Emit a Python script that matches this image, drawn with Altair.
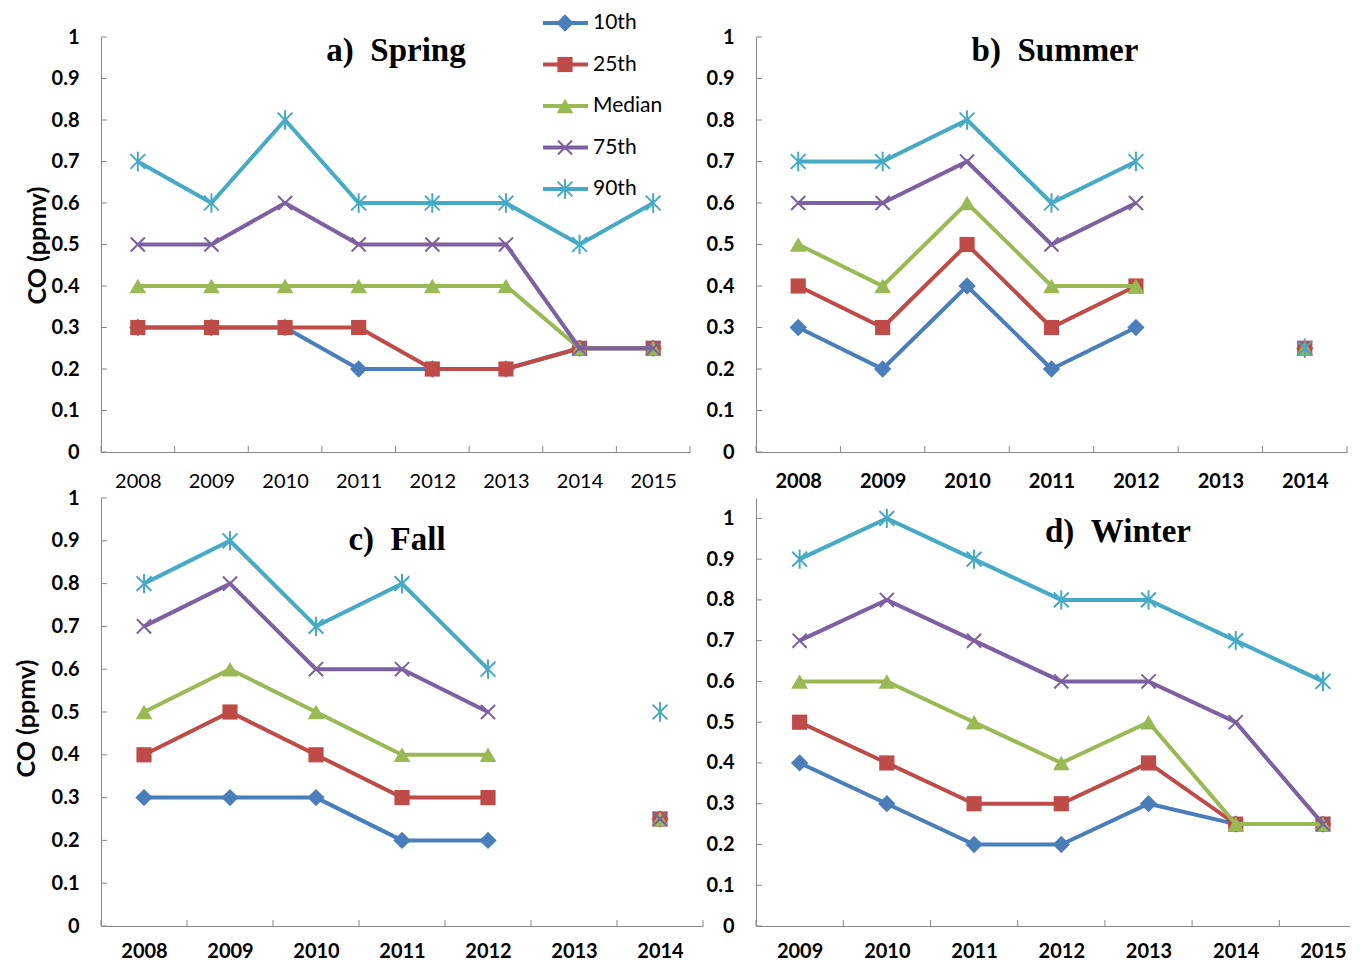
import altair as alt
import pandas as pd

SERIES = ["10th", "25th", "Median", "75th", "90th"]
COLORS = ["#4A7EBB", "#BE4B48", "#98B954", "#7D60A0", "#46AAC5"]
SHAPES = ["diamond", "square", "triangle-up",
          "M-1,-1L1,1M-1,1L1,-1",
          "M-1,-1L1,1M-1,1L1,-1M0,-1.3L0,1.3"]
FILLED = [True, True, True, False, False]
SIZES = [300, 230, 280, 200, 220]

Y_TICKS = [0, 0.1, 0.2, 0.3, 0.4, 0.5, 0.6, 0.7, 0.8, 0.9, 1.0]

SPRING_YEARS = [2008, 2009, 2010, 2011, 2012, 2013, 2014, 2015]
SPRING_10TH = [0.3, 0.3, 0.3, 0.2, 0.2, 0.2, 0.25, 0.25]
SPRING_25TH = [0.3, 0.3, 0.3, 0.3, 0.2, 0.2, 0.25, 0.25]
SPRING_MEDIAN = [0.4, 0.4, 0.4, 0.4, 0.4, 0.4, 0.25, 0.25]
SPRING_75TH = [0.5, 0.5, 0.6, 0.5, 0.5, 0.5, 0.25, 0.25]
SPRING_90TH = [0.7, 0.6, 0.8, 0.6, 0.6, 0.6, 0.5, 0.6]

SUMMER_YEARS = [2008, 2009, 2010, 2011, 2012, 2013, 2014]
SUMMER_10TH = [0.3, 0.2, 0.4, 0.2, 0.3, None, 0.25]
SUMMER_25TH = [0.4, 0.3, 0.5, 0.3, 0.4, None, 0.25]
SUMMER_MEDIAN = [0.5, 0.4, 0.6, 0.4, 0.4, None, 0.25]
SUMMER_75TH = [0.6, 0.6, 0.7, 0.5, 0.6, None, 0.25]
SUMMER_90TH = [0.7, 0.7, 0.8, 0.6, 0.7, None, 0.25]

FALL_YEARS = [2008, 2009, 2010, 2011, 2012, 2013, 2014]
FALL_10TH = [0.3, 0.3, 0.3, 0.2, 0.2, None, 0.25]
FALL_25TH = [0.4, 0.5, 0.4, 0.3, 0.3, None, 0.25]
FALL_MEDIAN = [0.5, 0.6, 0.5, 0.4, 0.4, None, 0.25]
FALL_75TH = [0.7, 0.8, 0.6, 0.6, 0.5, None, 0.25]
FALL_90TH = [0.8, 0.9, 0.7, 0.8, 0.6, None, 0.5]

WINTER_YEARS = [2009, 2010, 2011, 2012, 2013, 2014, 2015]
WINTER_10TH = [0.4, 0.3, 0.2, 0.2, 0.3, 0.25, 0.25]
WINTER_25TH = [0.5, 0.4, 0.3, 0.3, 0.4, 0.25, 0.25]
WINTER_MEDIAN = [0.6, 0.6, 0.5, 0.4, 0.5, 0.25, 0.25]
WINTER_75TH = [0.7, 0.8, 0.7, 0.6, 0.6, 0.5, 0.25]
WINTER_90TH = [0.9, 1.0, 0.9, 0.8, 0.8, 0.7, 0.6]

TITLES = ["a)\u00a0\u00a0Spring", "b)\u00a0\u00a0Summer", "c)\u00a0\u00a0Fall", "d)\u00a0\u00a0Winter"]
Y_TITLE = "CO (ppmv)"

FONT = "Lato"
AXIS_C = "#888888"


def series_df(years, values):
    rows = []
    seg = 0
    for y, v in zip(years, values):
        if v is None:
            seg += 1
            continue
        rows.append({"yr": y, "value": v, "seg": seg})
    return pd.DataFrame(rows)


def make_panel(years, series_values, width, height, ymax, title, tx, ty,
               bold_x, xpad, ytitle=None, ytx=0, yty=0, xmax=None, legend=False):
    x0 = years[0] - 0.5
    x1 = years[-1] + 0.5 if xmax is None else xmax
    xscale = alt.Scale(domain=[x0, x1], nice=False, zero=False)
    xaxis = alt.Axis(title=None, ticks=False, grid=False, values=years, format="d",
                     domain=True, domainColor=AXIS_C, domainWidth=1,
                     labelFont=FONT, labelFontSize=20,
                     labelFontWeight="bold" if bold_x else "normal",
                     labelColor="black", labelPadding=xpad, labelAngle=0,
                     labelOverlap=False, labelFlush=False)
    yscale = alt.Scale(domain=[0, ymax], nice=False, zero=True)
    ykw = dict(values=Y_TICKS, format=".1~f", ticks=False, grid=False,
               domainColor=AXIS_C, domainWidth=1,
               labelFont=FONT, labelFontSize=20, labelFontWeight="bold",
               labelColor="black", labelPadding=22)
    if ytitle:
        ykw.update(title=ytitle, titleFont=FONT, titleFontSize=25,
                   titleFontWeight="bold", titleColor="black",
                   titleX=ytx, titleY=yty, titleAngle=270,
                   titleBaseline="middle", titleAlign="center")
    else:
        ykw.update(title=None)
    yaxis = alt.Axis(**ykw)

    X = alt.X("yr:Q", scale=xscale, axis=xaxis)
    XB = alt.X("edge:Q", scale=xscale, axis=xaxis)
    Y = alt.Y("value:Q", scale=yscale, axis=yaxis)

    edges = [y - 0.5 for y in years]
    if xmax is None:
        edges.append(years[-1] + 0.5)
    edges_df = pd.DataFrame({"edge": edges})
    ticks_df = pd.DataFrame({"value": Y_TICKS})

    layers = []
    layers.append(alt.Chart(ticks_df).mark_rule(color=AXIS_C, strokeWidth=1).encode(
        y=Y, x=alt.value(0), x2=alt.value(6)))
    layers.append(alt.Chart(edges_df).mark_rule(color=AXIS_C, strokeWidth=1).encode(
        x=XB, y=alt.value(height), y2=alt.value(height - 6)))

    for i, vals in enumerate(series_values):
        d = series_df(years, vals)
        layers.append(alt.Chart(d).mark_line(color=COLORS[i], strokeWidth=4).encode(
            x=X, y=Y, detail="seg:N"))
        layers.append(alt.Chart(d).mark_point(
            shape=SHAPES[i], filled=FILLED[i], size=SIZES[i], color=COLORS[i],
            opacity=1, strokeWidth=2 if not FILLED[i] else 0.5).encode(x=X, y=Y))

    layers.append(alt.Chart(pd.DataFrame({"t": [title]})).mark_text(
        font="Liberation Serif", fontSize=33, fontWeight="bold", color="black",
        align="center", baseline="middle").encode(
        x=alt.value(tx), y=alt.value(ty), text="t:N"))

    main = alt.layer(*layers)

    if legend:
        leg_df = pd.DataFrame({"s": SERIES})
        ly = alt.Y("s:N", scale=alt.Scale(type="point", domain=SERIES,
                                           range=[-14, 152], padding=0), axis=None)
        llayers = []
        for i, s in enumerate(SERIES):
            ds = leg_df[leg_df["s"] == s]
            llayers.append(alt.Chart(ds).mark_rule(color=COLORS[i], strokeWidth=4).encode(
                y=ly, x=alt.value(442), x2=alt.value(487)))
            llayers.append(alt.Chart(ds).mark_point(
                shape=SHAPES[i], filled=FILLED[i], size=SIZES[i], color=COLORS[i],
                opacity=1, strokeWidth=2 if not FILLED[i] else 0.5).encode(
                y=ly, x=alt.value(464)))
        llayers.append(alt.Chart(leg_df).mark_text(
            font=FONT, fontSize=21, color="black", align="left", baseline="middle").encode(
            y=ly, x=alt.value(492), text="s:N"))
        panel = alt.layer(main, alt.layer(*llayers)).resolve_scale(y="independent")
    else:
        panel = main
    return panel.properties(width=width, height=height)


spring = make_panel(SPRING_YEARS,
                    [SPRING_10TH, SPRING_25TH, SPRING_MEDIAN, SPRING_75TH, SPRING_90TH],
                    589, 415, 1.0, TITLES[0], 295, 14, False, 19,
                    ytitle=Y_TITLE, ytx=-64, yty=208, legend=True)
summer = make_panel(SUMMER_YEARS,
                    [SUMMER_10TH, SUMMER_25TH, SUMMER_MEDIAN, SUMMER_75TH, SUMMER_90TH],
                    591, 415, 1.0, TITLES[1], 299, 14, True, 19)
fall = make_panel(FALL_YEARS,
                  [FALL_10TH, FALL_25TH, FALL_MEDIAN, FALL_75TH, FALL_90TH],
                  602, 428, 1.0, TITLES[2], 296, 42, True, 15,
                  ytitle=Y_TITLE, ytx=-75, yty=220)
winter = make_panel(WINTER_YEARS,
                    [WINTER_10TH, WINTER_25TH, WINTER_MEDIAN, WINTER_75TH, WINTER_90TH],
                    594, 428, 1.05, TITLES[3], 362, 34, True, 15, xmax=2015.31)

chart = alt.concat(spring, summer, fall, winter, columns=2,
                   spacing={"row": 46, "column": 53}, bounds="flush").properties(
    padding={"left": 6, "top": 4, "right": 0, "bottom": 0},
    background="white",
).configure_view(stroke=None)

chart.save("out.html", embed_options={"renderer": "svg", "actions": False})
